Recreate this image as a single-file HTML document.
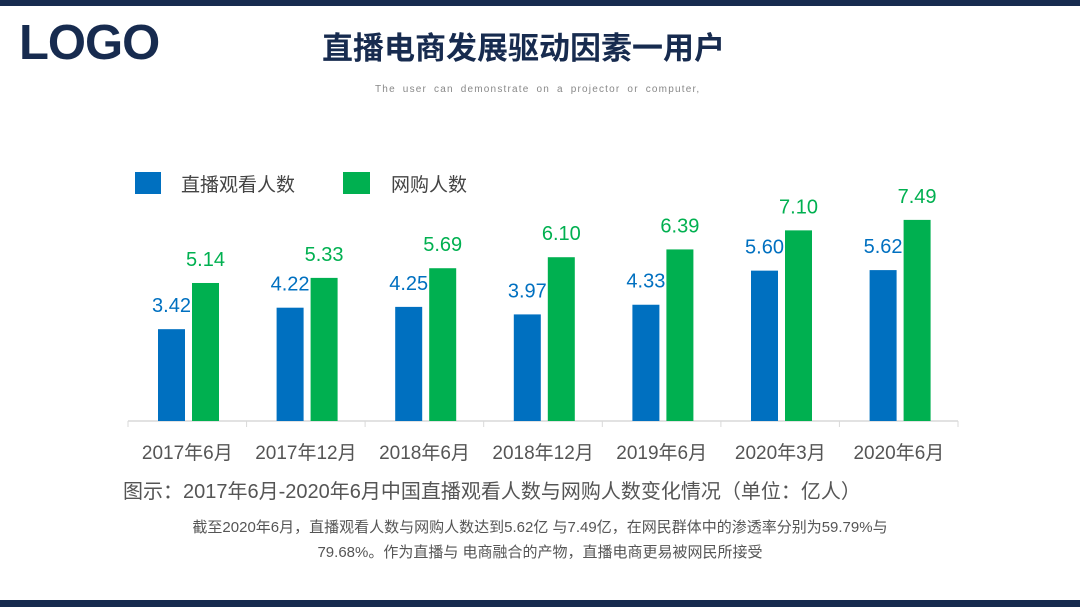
<!DOCTYPE html>
<html><head><meta charset="utf-8"><style>
body{margin:0;width:1080px;height:607px;background:#fff;position:relative;overflow:hidden;font-family:"Liberation Sans","Noto Sans CJK SC",sans-serif}
.a{position:absolute;white-space:nowrap}
</style></head><body>
<div class="a" style="left:0;top:0;width:1080px;height:6px;background:#172b4f"></div>
<div class="a" style="left:0;top:600px;width:1080px;height:7px;background:#172b4f"></div>
<div class="a" style="left:19px;top:15px;font-size:49px;font-weight:bold;color:#172b4f;letter-spacing:-1px">LOGO</div>
<div class="a" style="left:322px;top:26px;font-size:31px;font-weight:bold;color:#172b4f;font-family:'Noto Sans CJK SC',sans-serif;line-height:40px">直播电商发展驱动因素一用户</div>
<div class="a" style="left:375px;top:84px;font-size:10px;color:#888;letter-spacing:1.2px;word-spacing:3px">The user can demonstrate on a projector or computer,</div>
<svg class="a" style="left:0;top:0" width="1080" height="607">
<rect x="135" y="172" width="26" height="22" fill="#0070c0"/>
<rect x="343" y="172" width="27" height="22" fill="#00b050"/>
<g font-family="Noto Sans CJK SC,sans-serif" font-size="19" fill="#444">
<text x="181" y="191">直播观看人数</text><text x="391" y="191">网购人数</text></g>
<line x1="128" y1="421" x2="958" y2="421" stroke="#d9d9d9" stroke-width="1.5"/>
<g stroke="#d9d9d9"><line x1="128" y1="421" x2="128" y2="427"/><line x1="246.6" y1="421" x2="246.6" y2="427"/><line x1="365.1" y1="421" x2="365.1" y2="427"/><line x1="483.7" y1="421" x2="483.7" y2="427"/><line x1="602.3" y1="421" x2="602.3" y2="427"/><line x1="720.9" y1="421" x2="720.9" y2="427"/><line x1="839.4" y1="421" x2="839.4" y2="427"/><line x1="958" y1="421" x2="958" y2="427"/></g>
<g id="bars"></g>
</svg>
<div class="a" style="left:123px;top:475px;font-size:20px;color:#555">图示：2017年6月-2020年6月中国直播观看人数与网购人数变化情况（单位：亿人）</div>
<div class="a" style="left:0;width:1080px;text-align:center;top:515px;font-size:15px;color:#555;line-height:25px">截至2020年6月，直播观看人数与网购人数达到5.62亿 与7.49亿，在网民群体中的渗透率分别为59.79%与<br>79.68%。作为直播与 电商融合的产物，直播电商更易被网民所接受</div>
<script>
var b=[3.42,4.22,4.25,3.97,4.33,5.60,5.62],g=[5.14,5.33,5.69,6.10,6.39,7.10,7.49],
l=["2017年6月","2017年12月","2018年6月","2018年12月","2019年6月","2020年3月","2020年6月"],s='',k=26.85;
for(var i=0;i<7;i++){var x=158+118.6*i,hb=b[i]*k,hg=g[i]*k,c=128+118.6*i+59.3;
s+='<rect x="'+x+'" y="'+(421-hb)+'" width="27" height="'+hb+'" fill="#0070c0"/>';
s+='<rect x="'+(x+34)+'" y="'+(421-hg)+'" width="27" height="'+hg+'" fill="#00b050"/>';
s+='<text x="'+(x+13.5)+'" y="'+(421-hb-17)+'" text-anchor="middle" font-size="20" fill="#0070c0">'+b[i].toFixed(2)+'</text>';
s+='<text x="'+(x+47.5)+'" y="'+(421-hg-17)+'" text-anchor="middle" font-size="20" fill="#00b050">'+g[i].toFixed(2)+'</text>';
s+='<text x="'+c+'" y="459" text-anchor="middle" font-size="19" fill="#555" font-family="Liberation Sans,Noto Sans CJK SC,sans-serif">'+l[i]+'</text>';}
document.getElementById('bars').innerHTML=s;
</script>
</body></html>
